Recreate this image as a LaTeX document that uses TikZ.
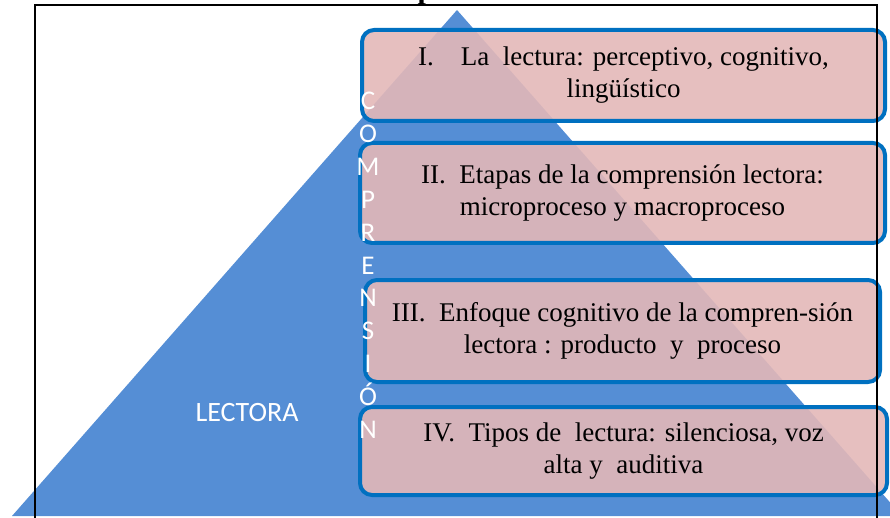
\documentclass[tikz,border=0pt]{standalone}
\usepackage{fontspec}
\setmainfont{Liberation Serif}
\newfontfamily\calib{Carlito}
\definecolor{piramide}{RGB}{85,142,213}
\definecolor{borde}{RGB}{0,112,192}
\definecolor{rosa}{RGB}{227,184,184}
\tikzset{
  tema/.style={draw=borde, line width=4pt, rounded corners=12pt, fill=rosa,
    fill opacity=0.9, text opacity=1, align=center, inner sep=0pt,
    font=\fontsize{27}{32}\selectfont},
  letra/.style={text=white, anchor=base, font=\calib\fontsize{27}{27}\selectfont}
}
\begin{document}
\begin{tikzpicture}[x=1pt,y=-1pt]
    \useasboundingbox (0,0) rectangle (890,518);
    \node[anchor=base, font=\bfseries\fontsize{30}{30}\selectfont] (titulo) at (426,-1) {p};
    \fill[piramide] (457,10) -- (12,516) -- (902,516) -- cycle;
    \node[tema, minimum width=523pt, minimum height=91pt] (t1) at (623.5,75.5)
      {I.\quad La\ \ lectura: perceptivo, cognitivo,\\ lingüístico};
    \node[tema, minimum width=525pt, minimum height=100pt] (t2) at (622.5,193)
      {II.\ \ Etapas de la comprensión lectora:\\ microproceso y macroproceso};
    \node[tema, minimum width=515pt, minimum height=102pt] (t3) at (622.5,331)
      {III.\ \ Enfoque cognitivo de la compren-sión\\ lectora : producto\ \ y\ \ proceso};
    \node[tema, minimum width=527pt, minimum height=88pt] (t4) at (623.5,451)
      {IV.\ \ Tipos de\ \ lectura: silenciosa, voz\\ alta y\ \ auditiva};
    \foreach \l [count=\i] in {C,O,M,P,R,E,N,S,I,Ó,N}
      \node[letra] (c\i) at (368,{110+32.8*(\i-1)}) {\l};
    \node[letra, font=\calib\fontsize{28}{28}\selectfont] (lectora) at (247,421) {LECTORA};
    \draw[line width=1.5pt] (35,520) -- (35,5) -- (877,5) -- (877,520);
  \end{tikzpicture}
\end{document}
